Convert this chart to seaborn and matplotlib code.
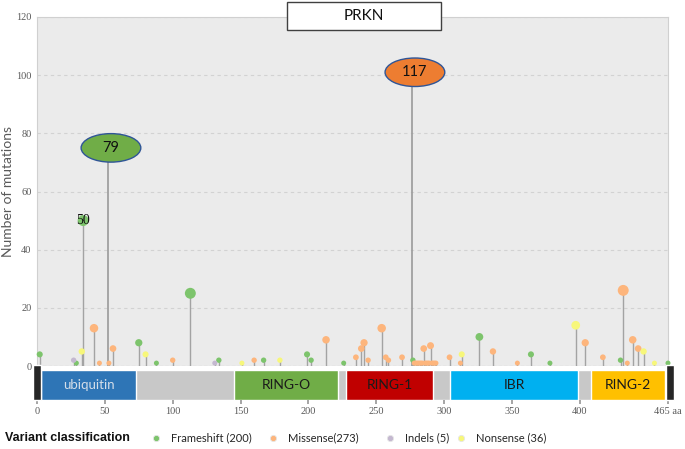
import numpy as np
import pandas as pd
import matplotlib
matplotlib.use("Agg")
import matplotlib.pyplot as plt
from matplotlib.patches import Ellipse, Rectangle
import seaborn as sns

# --- Data ---
protein_length = 465

frameshift_pos = [2, 29, 34, 75, 88, 113, 134, 167, 199, 202, 226, 277, 326, 364, 378, 430, 465]
frameshift_n = [4, 1, 50, 8, 1, 25, 2, 2, 4, 2, 1, 2, 10, 4, 1, 2, 1]

missense_pos = [42, 46, 53, 56, 100, 160, 213, 235, 239, 241, 244, 254, 257, 259, 269,
                278, 279, 280, 281, 282, 283, 284, 286, 287, 288, 289, 291, 292, 293, 294,
                285, 290, 304, 312, 336, 354, 404, 417, 432, 435, 439, 443]
missense_n = [13, 1, 1, 6, 2, 2, 9, 3, 6, 8, 2, 13, 3, 2, 3,
              1, 1, 1, 1, 1, 1, 1, 1, 1, 1, 1, 1, 1, 1, 1,
              6, 7, 3, 1, 5, 1, 8, 3, 26, 1, 9, 6]

indel_pos = [27, 131]
indel_n = [2, 1]

nonsense_pos = [33, 80, 151, 179, 313, 397, 447, 455]
nonsense_n = [5, 4, 1, 2, 4, 14, 5, 1]

# hotspots drawn as labelled ellipses (stem stops where the bubble sits)
hotspot_pos = [52, 276]
hotspot_label = ["79", "117"]
hotspot_y = [75, 101]
hotspot_colors = ["#70AD47", "#ED7D31"]

domain_names = ["ubiquitin", "RING-O", "RING-1", "IBR", "RING-2"]
domain_start = [3, 145, 228, 304, 408]
domain_end = [73, 222, 292, 399, 463]
domain_colors = ["#2E75B6", "#70AD47", "#C00000", "#00B0F0", "#FFC000"]
domain_text = ["#D4DEE9", "#1A1A1A", "#1A1A1A", "#1A1A1A", "#1A1A1A"]

x_ticks = [0, 50, 100, 150, 200, 250, 300, 350, 400]
y_ticks = [0, 20, 40, 60, 80, 100, 120]

legend_labels = ["Frameshift (200)", "Missense(273)", "Indels (5)", "Nonsense (36)"]
palette = {"Frameshift": "#7DC46C", "Missense": "#FDB57C",
           "Indels": "#C4B8D0", "Nonsense": "#F7F77A"}

# --- Build the table ---
df = pd.concat([
    pd.DataFrame({"pos": frameshift_pos, "n": frameshift_n, "cls": "Frameshift"}),
    pd.DataFrame({"pos": missense_pos, "n": missense_n, "cls": "Missense"}),
    pd.DataFrame({"pos": indel_pos, "n": indel_n, "cls": "Indels"}),
    pd.DataFrame({"pos": nonsense_pos, "n": nonsense_n, "cls": "Nonsense"}),
], ignore_index=True)

sns.set_theme(style="white")
plt.rcParams["font.family"] = ["Lato", "DejaVu Sans"]

W, H = 685, 449
fig = plt.figure(figsize=(W / 100, H / 100), dpi=100)


def px_rect(x0, y0, x1, y1):
    return [x0 / W, 1 - y1 / H, (x1 - x0) / W, (y1 - y0) / H]


# --- Main lollipop axes ---
ax = fig.add_axes(px_rect(37, 17, 668, 366))
ax.set_facecolor("#EBEBEB")
ax.set_xlim(0, protein_length)
ax.set_ylim(0, 120)
ax.set_yticks(y_ticks)
ax.set_xticks([])
for y in y_ticks[1:]:
    ax.axhline(y, color="#D2D2D2", lw=0.8, ls=(0, (3, 3)), zorder=1)
ax.axhline(0, color="#A8A8A8", lw=0.8, ls=(0, (3, 2)), zorder=1)
for side in ["top", "right", "left"]:
    ax.spines[side].set_color("#D0D0D0")
    ax.spines[side].set_linewidth(0.8)
ax.spines["bottom"].set_visible(False)
ax.tick_params(axis="y", length=2, color="#C8C8C8", pad=2, labelsize=7.5,
               labelcolor="#595959")
for lab in ax.get_yticklabels():
    lab.set_fontfamily("Liberation Serif")

ax.vlines(df["pos"], 0, df["n"], color="#A3A3A3", lw=1.0, zorder=2)
ax.vlines(hotspot_pos, 0, hotspot_y, color="#9A9A9A", lw=1.2, zorder=2)

sns.scatterplot(data=df, x="pos", y="n", hue="cls", palette=palette,
                size="n", sizes=(13, 62), size_norm=(1, 25), legend=False,
                edgecolor="none", linewidth=0, zorder=4, clip_on=False, ax=ax)
ax.set_xlabel("")
ax.set_ylabel("Number of mutations", fontsize=10, color="#595959")
ax.yaxis.set_label_coords(-0.036, 0.5)

# label inside the 50 bubble
ax.text(34, 50, "50", ha="center", va="center", fontsize=10,
        fontfamily="Liberation Serif", color="#111111", zorder=6)

for xp, lab, yp, col in zip(hotspot_pos, hotspot_label, hotspot_y, hotspot_colors):
    ax.add_patch(Ellipse((xp + 2.5, yp), width=44, height=9.8, facecolor=col,
                         edgecolor="#2F5597", lw=1.0, zorder=6, clip_on=False))
    ax.text(xp + 2.5, yp, lab, ha="center", va="center", fontsize=10.5,
            color="#111111", zorder=7)

# --- Domain bar ---
ax2 = fig.add_axes(px_rect(37, 365, 668, 400))
ax2.set_xlim(0, protein_length)
ax2.set_ylim(0, 35)
ax2.set_facecolor("none")
for s in ax2.spines.values():
    s.set_visible(False)
ax2.barh(15, protein_length, left=0, height=30, color="#C8C8C8", zorder=1)
ax2.barh(15, np.subtract(domain_end, domain_start), left=domain_start, height=30,
         color=domain_colors, zorder=2)
ax2.barh(17.5, 6, left=[-3, 463.5], height=35, color="#262626", zorder=3, clip_on=False)
for name, s0, s1, tc in zip(domain_names, domain_start, domain_end, domain_text):
    ax2.text((s0 + s1) / 2, 15, name, ha="center", va="center",
             fontsize=10 if name != "ubiquitin" else 9.5, color=tc, zorder=4)
ax2.set_yticks([])
ax2.set_xticks(x_ticks + [protein_length])
ax2.set_xticklabels([str(t) for t in x_ticks] + [""])
ax2.tick_params(axis="x", length=3, color="#9A9A9A", pad=2, labelsize=7.5,
                labelcolor="#595959", bottom=True)
for lab in ax2.get_xticklabels():
    lab.set_fontfamily("Liberation Serif")
ax2.text(454.5, -11, "465 aa", ha="left", va="center", fontsize=7.5,
         color="#595959", fontfamily="Liberation Serif")

# --- Overlay in pixel coordinates: title box and legend ---
ov = fig.add_axes([0, 0, 1, 1], zorder=10)
ov.set_xlim(0, W)
ov.set_ylim(H, 0)
ov.axis("off")
ov.patch.set_alpha(0)
ov.add_patch(Rectangle((287, 2), 154, 28, facecolor="white", edgecolor="#404040", lw=1.0))
ov.text(364, 16.5, "PRKN", ha="center", va="center", fontsize=11, color="#111111")

ov.text(5, 438, "Variant classification", ha="left", va="center", fontsize=9,
        fontweight="bold", fontfamily="Liberation Sans", color="#111111")
leg_dot_x = [156, 273, 390, 461]
for xd, lab, key in zip(leg_dot_x, legend_labels, palette):
    ov.scatter([xd], [437.5], s=20, color=palette[key], edgecolor="#E6E6E6", lw=0.6)
    ov.text(xd + 15, 438, lab, ha="left", va="center", fontsize=8, color="#262626")

fig.savefig("out.png", dpi=100)
